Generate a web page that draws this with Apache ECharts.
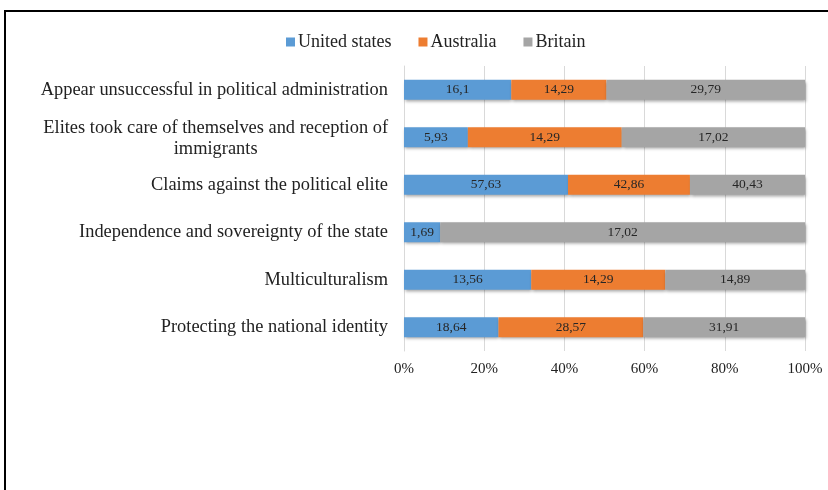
<!DOCTYPE html>
<html>
<head>
<meta charset="utf-8">
<script src="https://cdn.jsdelivr.net/npm/echarts@6/dist/echarts.min.js"></script>
<style>
  html, body { margin: 0; padding: 0; background: #fff; }
  #wrap { position: relative; width: 828px; height: 490px; overflow: hidden; }
  #frame { position: absolute; left: 4px; top: 10px; width: 900px; height: 600px;
           border-left: 2px solid #000; border-top: 2px solid #000; box-sizing: border-box; }
  #chart { position: absolute; left: 0; top: 0; width: 828px; height: 490px; }
</style>
</head>
<body>
<div id="wrap">
  <div id="frame"></div>
  <div id="chart"></div>
</div>
<script>
// Reasons for populist support, by country (shares shown as 100% stacked bars)
const categories = [
  'Appear unsuccessful in political administration',
  'Elites took care of themselves and reception of immigrants',
  'Claims against the political elite',
  'Independence and sovereignty of the state',
  'Multiculturalism',
  'Protecting the national identity'
];
const unitedStates = [16.1, 5.93, 57.63, 1.69, 13.56, 18.64];
const australia    = [14.29, 14.29, 42.86, null, 14.29, 28.57];
const britain      = [29.79, 17.02, 40.43, 17.02, 14.89, 31.91];
const xTicks = [0, 20, 40, 60, 80, 100];

const seriesDefs = [
  { name: 'United states', values: unitedStates, color: '#5B9BD5' },
  { name: 'Australia',     values: australia,    color: '#ED7D31' },
  { name: 'Britain',       values: britain,      color: '#A5A5A5' }
];

// Row totals used to turn each raw value into its share of the bar
const totals = categories.map((_, i) =>
  seriesDefs.reduce((s, d) => s + (d.values[i] || 0), 0));

const serif = '"Liberation Serif", "DejaVu Serif", serif';
const catFont = 18.4;

const chart = echarts.init(document.getElementById('chart'), null, { renderer: 'canvas' });

chart.setOption({
  backgroundColor: 'transparent',
  animation: false,
  legend: {
    top: 28,
    left: 281,
    itemWidth: 9,
    itemHeight: 9,
    itemGap: 27,
    icon: 'rect',
    textStyle: { fontFamily: serif, fontSize: 18, color: '#222', padding: [0, 0, 0, -2] },
    data: seriesDefs.map(d => d.name)
  },
  grid: { left: 404, right: 23, top: 66, bottom: 139, containLabel: false },
  xAxis: {
    type: 'value',
    min: xTicks[0],
    max: xTicks[xTicks.length - 1],
    interval: xTicks[1] - xTicks[0],
    axisLine: { show: false },
    axisTick: { show: false },
    splitLine: { show: true, lineStyle: { color: '#d9d9d9', width: 1 } },
    axisLabel: {
      margin: 11,
      formatter: '{value}%',
      fontFamily: serif, fontSize: 15, color: '#222'
    }
  },
  yAxis: {
    type: 'category',
    inverse: true,
    data: categories,
    axisLine: { show: true, lineStyle: { color: '#d9d9d9' } },
    axisTick: { show: false },
    axisLabel: {
      margin: 16,
      fontFamily: serif, fontSize: catFont, color: '#222',
      formatter: function (v) {
        const cut = 'of themselves and reception of';
        const idx = v.indexOf(cut);
        if (idx >= 0) {
          const first = v.slice(0, idx + cut.length);
          const second = v.slice(idx + cut.length).trim();
          return '{c|' + first + '}\n{c|' + second + '}';
        }
        return v;
      },
      rich: {
        c: { align: 'center', fontFamily: serif, fontSize: catFont, color: '#222', lineHeight: 21, padding: [2, 0, 0, 0] }
      }
    }
  },
  series: seriesDefs.map(d => ({
    name: d.name,
    type: 'bar',
    stack: 'total',
    barWidth: 20,
    itemStyle: {
      color: d.color,
      shadowColor: 'rgba(0,0,0,0.35)',
      shadowBlur: 3,
      shadowOffsetX: 1,
      shadowOffsetY: 2
    },
    label: {
      show: true,
      position: 'inside',
      fontFamily: serif,
      fontSize: 13.5,
      color: '#262626',
      formatter: p => {
        const raw = d.values[p.dataIndex];
        return raw == null ? '' : String(raw).replace('.', ',');
      }
    },
    data: d.values.map((v, i) => v == null ? null : v / totals[i] * 100)
  }))
});
</script>
</body>
</html>
